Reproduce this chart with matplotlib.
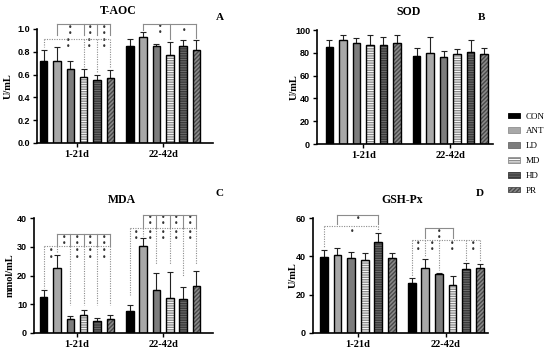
import matplotlib.pyplot as plt
import numpy as np
from matplotlib.patches import Patch

groups = ["1-21d", "22-42d"]
treatments = ["CON", "ANT", "LD", "MD", "HD", "PR"]

# mean and upper error (SD) per period, order = treatments
taoc_mean = [[0.72, 0.72, 0.65, 0.58, 0.55, 0.57], [0.85, 0.93, 0.85, 0.77, 0.85, 0.82]]
taoc_err = [[0.10, 0.12, 0.07, 0.07, 0.05, 0.07], [0.06, 0.04, 0.02, 0.12, 0.05, 0.08]]
sod_mean = [[85, 91, 89, 87, 87, 89], [77, 80, 76, 79, 81, 79]]
sod_err = [[6, 5, 4, 9, 7, 7], [7, 14, 6, 4, 10, 5]]
mda_mean = [[12.5, 22.5, 4.8, 6.2, 4.3, 4.9], [7.8, 30.3, 15.0, 12.2, 12.0, 16.5]]
mda_err = [[2.5, 4.5, 1.0, 1.8, 0.9, 1.3], [2.0, 2.7, 5.8, 9.0, 4.0, 4.9]]
gsh_mean = [[39.5, 40.5, 39.0, 38.0, 47.5, 39.0], [26.0, 34.0, 31.0, 25.0, 33.5, 34.0]]
gsh_err = [[4.0, 4.0, 3.5, 4.0, 4.5, 3.0], [2.5, 4.5, 0.5, 4.5, 3.0, 2.0]]

# significance brackets: (period, style, y, from bar, to bar, drops [(bar, bottom)], stars [(pos, y, n)])
taoc_sig = [
    (0, "-", 1.04, 1, 5, [(1, 0.945), (3, 0.945), (4, 0.945), (5, 0.945)],
     [(2.0, 0.99, 2), (3.5, 0.99, 2), (4.5, 0.99, 2)]),
    (0, ":", 0.915, 0, 5, [(0, None), (3, None), (4, None), (5, None)],
     [(1.8, 0.87, 2), (3.4, 0.87, 2), (4.5, 0.87, 2)]),
    (1, "-", 1.044, 1, 5, [(1, None), (3, None), (5, None)],
     [(2.25, 0.995, 2), (4.05, 0.985, 1)]),
]
mda_sig = [
    (0, "-", 34.4, 1, 5, [(1, 30.3), (2, 30.3), (3, 30.3), (4, 30.3), (5, 30.3)],
     [(1.5, 32.3, 2), (2.5, 32.3, 2), (3.5, 32.3, 2), (4.5, 32.3, 2)]),
    (0, ":", 30.3, 0, 5, [(0, None), (1, None), (2, 9.7), (3, 9.7), (4, 9.7), (5, 9.7)],
     [(0.55, 27.5, 2), (2.5, 27.5, 2), (3.5, 27.5, 2), (4.5, 27.5, 2)]),
    (1, "-", 41.2, 1, 5, [(1, 36.6), (2, 36.6), (3, 36.6), (4, 36.6), (5, 36.6)],
     [(1.5, 39, 2), (2.5, 39, 2), (3.5, 39, 2), (4.5, 39, 2)]),
    (1, ":", 36.6, 0, 5, [(0, 13.2), (1, None), (2, 24), (3, 24), (4, 20), (5, 24)],
     [(0.5, 34, 2), (1.5, 34, 2), (2.5, 34, 2), (3.5, 34, 2), (4.5, 34, 2)]),
]
gsh_sig = [
    (0, "-", 61.7, 1, 4, [(1, 56.8), (4, 56.8)], [(2.5, 60, 1)]),
    (0, ":", 56, 0, 4, [(0, None), (4, None)], [(2.1, 52.7, 1)]),
    (1, "-", 54.7, 1, 3, [(1, 49.5), (3, 49.5)], [(2.0, 51.6, 2)]),
    (1, ":", 48.3, 0, 5, [(0, None), (1, None), (2, None), (4, None), (5, None)],
     [(0.5, 45, 2), (1.5, 45, 2), (3.0, 45, 2), (4.5, 45, 2)]),
]

faces = ["black", "#a8a8a8", "#7d7d7d", "white", "#6e6e6e", "#8a8a8a"]
hatches = [None, None, None, "-------", "-------", "////////"]
hcolors = ["black", "#8f8f8f", "#6a6a6a", "#8c8c8c", "#3a3a3a", "#4a4a4a"]

serif = "Liberation Serif"
sans = "Liberation Sans"
pitch = 0.155
width = 0.088
W, H = 550, 354

fig = plt.figure(figsize=(5.5, 3.54), dpi=100)


def bar_x(g, i):
    return g + (i - 2.5) * pitch


def panel(rect, xlim, ylim, yticks, fmt, mean, err, sig, title, tx, ylab, lx):
    l, b, w, h = rect
    ax = fig.add_axes([l / W, 1 - b / H, w / W, h / H])
    for g in range(2):
        for i in range(6):
            x = bar_x(g, i)
            ax.bar(x, mean[g][i], width, color=faces[i], edgecolor=hcolors[i],
                   hatch=hatches[i], linewidth=0, zorder=2)
            ax.bar(x, mean[g][i], width, fill=False, edgecolor="black",
                   linewidth=1.0, zorder=3)
        xs = [bar_x(g, i) for i in range(6)]
        ax.errorbar(xs, mean[g], yerr=[np.zeros(6), err[g]], fmt="none",
                    ecolor="#222222", elinewidth=0.8, capsize=2, capthick=0.8, zorder=1)
    pad = 0.02 * ylim[1]
    for g, st, y, a, bb, drops, stars in sig:
        ls = "-" if st == "-" else (0, (1, 1.2))
        ax.plot([bar_x(g, a), bar_x(g, bb)], [y, y], color="#8c8c8c", lw=0.8,
                ls=ls, clip_on=False, zorder=4)
        for i, bot in drops:
            if bot is None:
                bot = mean[g][i] + err[g][i] + pad
            ax.plot([bar_x(g, i)] * 2, [y, bot], color="#8c8c8c", lw=0.8,
                    ls=ls, clip_on=False, zorder=4)
        for pos, sy, n in stars:
            ax.text(bar_x(g, pos), sy, "\n".join(["\u2022"] * n), fontsize=5.5,
                    linespacing=0.6, ha="center", va="center", color="#333333",
                    clip_on=False)
    ax.set_xlim(*xlim)
    ax.set_ylim(*ylim)
    ax.set_yticks(yticks)
    ax.set_yticklabels([fmt.format(t) for t in yticks], fontfamily=sans,
                       fontweight="bold", fontsize=6.5)
    ax.set_xticks([0, 1])
    ax.set_xticklabels(groups, fontfamily=serif, fontweight="bold", fontsize=7.5)
    for s in ["top", "right"]:
        ax.spines[s].set_visible(False)
    for s in ["left", "bottom"]:
        ax.spines[s].set_linewidth(1.2)
    ax.tick_params(axis="both", length=3, width=1, pad=2)
    ax.text(tx, 1 + 18 / h, title, transform=ax.transAxes, ha="center", va="center",
            fontfamily=serif, fontweight="bold", fontsize=8.5)
    ax.set_ylabel(ylab, fontfamily=serif, fontweight="bold", fontsize=7.5)
    ax.yaxis.set_label_coords(lx, 0.5)
    return ax


panel((37, 143, 176, 114), (-0.465, 1.58), (0, 1.0), [0, 0.2, 0.4, 0.6, 0.8, 1.0], "{:.1f}",
      taoc_mean, taoc_err, taoc_sig, "T-AOC", 0.46, "U/mL", -0.135)
panel((317, 144, 176, 114), (-0.53, 1.49), (0, 100), [0, 20, 40, 60, 80, 100], "{:d}",
      sod_mean, sod_err, [], "SOD", 0.52, "U/mL", -0.105)
panel((34, 333, 179, 115), (-0.5, 1.58), (0, 40), [0, 10, 20, 30, 40], "{:d}",
      mda_mean, mda_err, mda_sig, "MDA", 0.49, "mmol/mL", -0.105)
panel((313, 333, 175, 115), (-0.51, 1.48), (0, 60), [0, 20, 40, 60], "{:d}",
      gsh_mean, gsh_err, gsh_sig, "GSH-Px", 0.51, "U/mL", -0.085)

for letter, x, y in [("A", 220, 17), ("B", 482, 17), ("C", 220, 194), ("D", 480, 194)]:
    fig.text(x / W, 1 - y / H, letter, ha="center", va="center", fontfamily=serif,
             fontweight="bold", fontsize=8)

handles = [Patch(facecolor=faces[i], edgecolor=hcolors[i], hatch=hatches[i], linewidth=0.6)
           for i in range(6)]
fig.legend(handles, treatments, loc="upper left", bbox_to_anchor=(503 / W, 1 - 108 / H),
           frameon=False, prop={"family": serif, "size": 6.5}, handlelength=1.4,
           handleheight=0.6, labelspacing=0.75, handletextpad=0.6, borderpad=0)

fig.savefig("out.png", dpi=100)
